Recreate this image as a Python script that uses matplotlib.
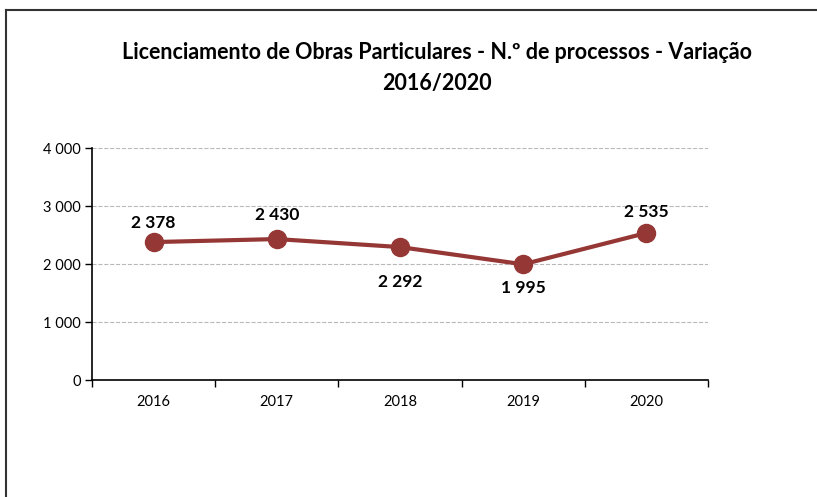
import matplotlib.pyplot as plt
from matplotlib.lines import Line2D

# Data
years = ['2016', '2017', '2018', '2019', '2020']
processos = [2378, 2430, 2292, 1995, 2535]
y_ticks = [0, 1000, 2000, 3000, 4000]

# label placement (points offset from marker)
label_dy = [14, 17, -25, -17, 15]

line_color = '#953735'


def fmt(v):
    return '{:,}'.format(v).replace(',', ' ')


plt.rcParams['font.family'] = ['Lato', 'DejaVu Sans']

fig = plt.figure(figsize=(8.17, 4.97), dpi=100)
ax = fig.add_axes([0.1126, 0.2354, 0.754, 0.4668])

# Outer frame (top and left edges visible)
fig.add_artist(Line2D([6 / 817, 1.0], [1 - 10 / 497, 1 - 10 / 497], color='#333333', lw=1.5))
fig.add_artist(Line2D([6 / 817, 6 / 817], [0.0, 1 - 10 / 497], color='#333333', lw=1.5))

x = list(range(len(years)))
ax.plot(x, processos, color=line_color, lw=3, marker='o', markersize=13, zorder=3)

for xi, v, dy in zip(x, processos, label_dy):
    ax.annotate(fmt(v), (xi, v), xytext=(0, dy), textcoords='offset points',
                ha='center', va='center', fontsize=12.5, fontweight='bold', color='black')

ax.set_xlim(-0.5, 4.5)
ax.set_ylim(0, 4000)
ax.set_yticks(y_ticks)
ax.set_yticklabels([fmt(t) for t in y_ticks], fontsize=10.5)
ax.set_xticks(x)
ax.set_xticklabels(years, fontsize=10.5)
ax.set_xticks([i - 0.5 for i in range(len(years) + 1)], minor=True)
ax.tick_params(axis='x', which='major', length=0, pad=11)
ax.tick_params(axis='x', which='minor', length=5, width=1)
ax.tick_params(axis='y', length=5, width=1, pad=3)

ax.grid(axis='y', color='#b8b8b8', linestyle='--', lw=0.8)
ax.set_axisbelow(True)
for s in ['top', 'right']:
    ax.spines[s].set_visible(False)
for s in ['left', 'bottom']:
    ax.spines[s].set_linewidth(1.2)

fig.text(0.535, 0.863, 'Licenciamento de Obras Particulares - N.º de processos - Variação\n2016/2020',
         ha='center', va='center', fontsize=15.5, fontweight='bold', linespacing=1.55)

fig.savefig('out.png', dpi=100)
